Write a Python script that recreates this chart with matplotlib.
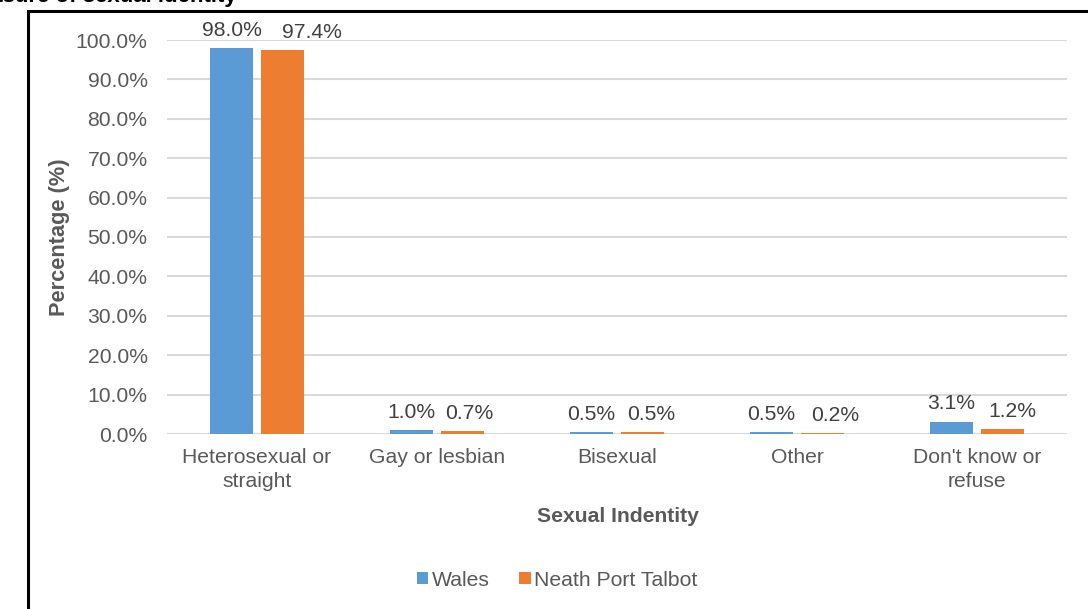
import matplotlib
matplotlib.use("Agg")
import matplotlib.pyplot as plt
from matplotlib.patches import Rectangle
import numpy as np

categories = ["Heterosexual or\nstraight", "Gay or lesbian", "Bisexual", "Other", "Don't know or\nrefuse"]
series_names = ["Wales", "Neath Port Talbot"]
wales = [98.0, 1.0, 0.5, 0.5, 3.1]
npt = [97.4, 0.7, 0.5, 0.2, 1.2]
y_ticks = [0, 10, 20, 30, 40, 50, 60, 70, 80, 90, 100]

plt.rcParams['font.family'] = ['Liberation Sans', 'DejaVu Sans']
W, H = 1088, 609
fig = plt.figure(figsize=(W / 100, H / 100), dpi=100)

def fx(px):
    return px / W

def fy(py):
    return 1 - py / H

ax = fig.add_axes([fx(167), fy(434), fx(1067) - fx(167), fy(40) - fy(434)])

x = np.arange(len(categories))
bw = 0.235
off = 0.142
blue = '#5B9BD5'
orange = '#ED7D31'
FS = 15.2
b1 = ax.bar(x - off, wales, bw, color=blue, label=series_names[0], zorder=3)
b2 = ax.bar(x + off, npt, bw, color=orange, label=series_names[1], zorder=3)

# horizontal label nudges (points) as placed in the original
wales_dx = [0, 0, 0, 0, 0]
npt_dx = [21, 5, 6, 9, 7]
for bars, vals, dxs in ((b1, wales, wales_dx), (b2, npt, npt_dx)):
    for r, v, dx in zip(bars, vals, dxs):
        ax.annotate(f"{v:.1f}%", (r.get_x() + r.get_width() / 2, r.get_height()),
                    xytext=(dx, 6), textcoords='offset points', ha='center', va='bottom',
                    fontsize=FS, color='#404040', annotation_clip=False)

ax.set_xlim(-0.5, 4.5)
ax.set_ylim(0, 100)
ax.set_yticks(y_ticks)
ax.set_yticklabels([f"{t:.1f}%" for t in y_ticks])
ax.set_xticks(x)
ax.set_xticklabels(categories, linespacing=1.35)
ax.tick_params(axis='both', length=0, labelsize=FS, labelcolor='#595959')
ax.tick_params(axis='y', pad=14)
ax.tick_params(axis='x', pad=10)
ax.yaxis.grid(True, color='#d9d9d9', lw=1.5, zorder=0)
for s in ax.spines.values():
    s.set_visible(False)

ax.set_ylabel("Percentage (%)", fontsize=FS + 0.5, fontweight='bold', color='#595959', labelpad=4)
fig.text(fx(618), fy(517), "Sexual Indentity", ha='center', va='center',
         fontsize=FS, fontweight='bold', color='#595959')

fig.legend(handles=[b1, b2], labels=series_names, loc='center', bbox_to_anchor=(fx(557), fy(580)),
           ncol=2, frameon=False, fontsize=FS, handlelength=0.55, handleheight=0.55,
           handletextpad=0.15, columnspacing=1.4, labelcolor='#595959')

# outer border
fig.patches.append(Rectangle((fx(28), fy(H + 10)), fx(W + 20), fy(11) - fy(H + 10),
                             transform=fig.transFigure, fill=False, edgecolor='black', lw=2.2))
# cropped title fragment
fig.text(fx(237), fy(-3), "Figure: Measure of sexual identity", ha='right', va='center',
         fontsize=16, fontweight='bold', color='black')

fig.savefig("out.png", dpi=100)
